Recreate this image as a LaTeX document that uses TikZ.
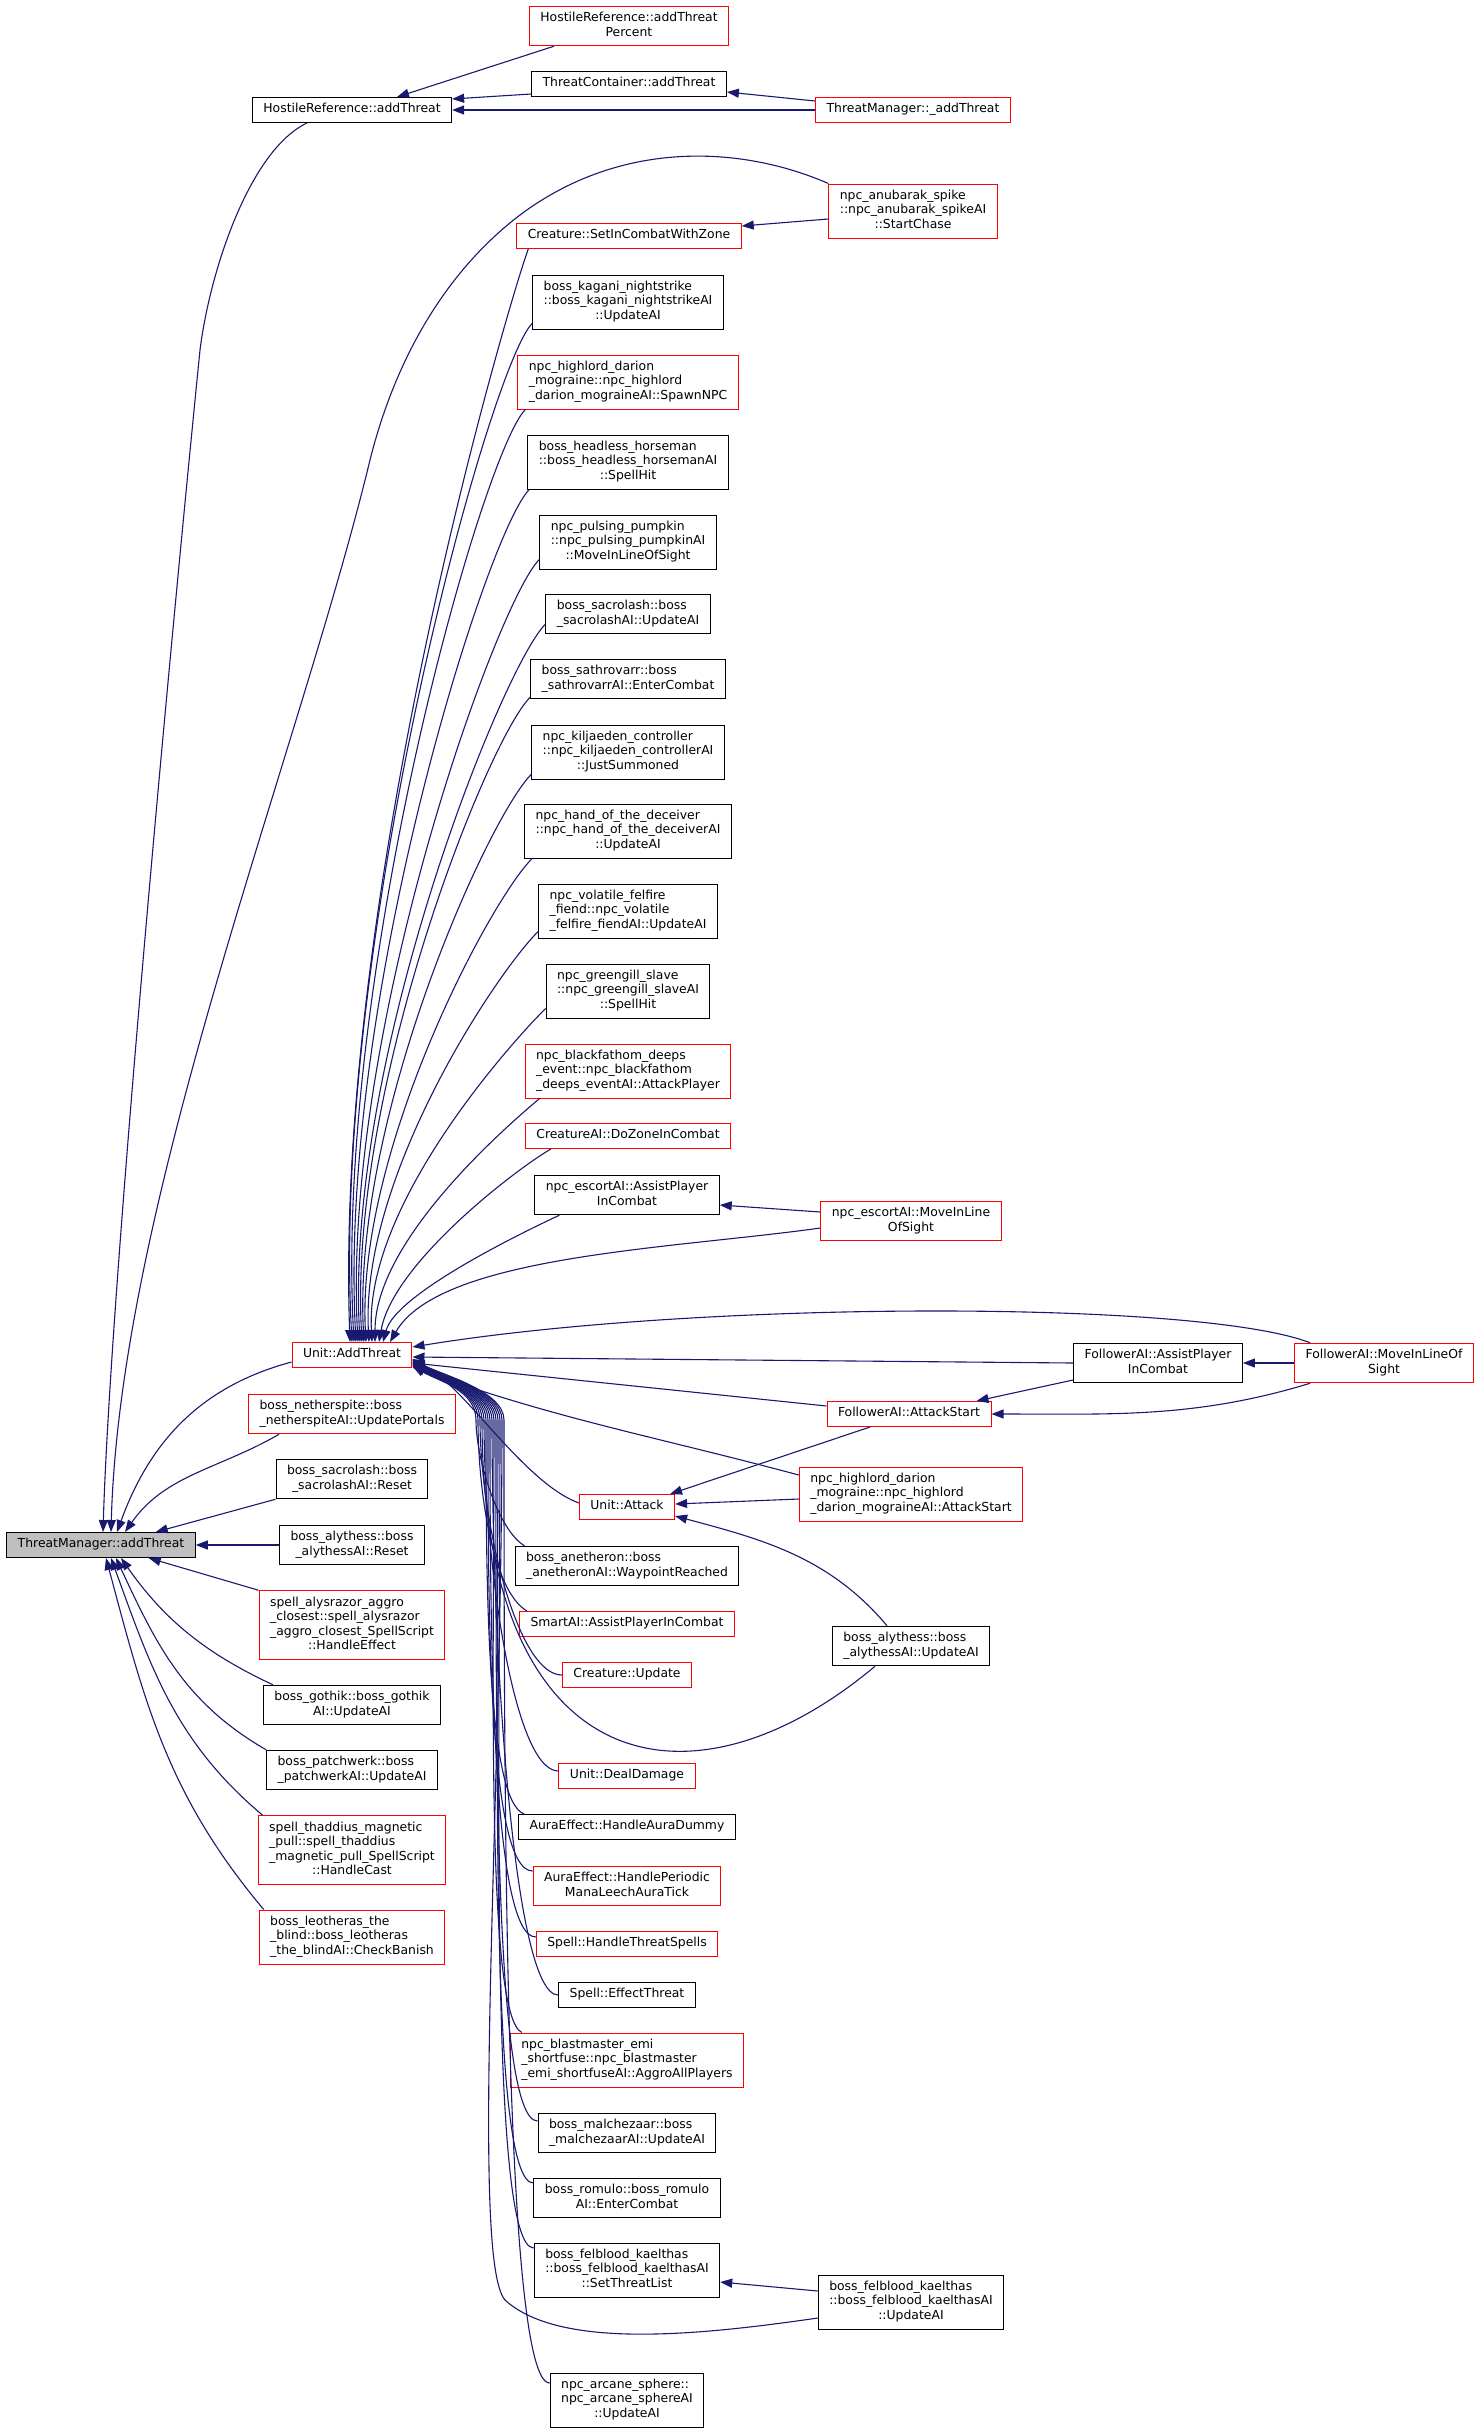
\documentclass[tikz,border=0pt]{standalone}
\usepackage{fontspec}
\setmainfont{DejaVu Sans}
\usetikzlibrary{arrows.meta}
\definecolor{edgeblue}{HTML}{191970}
\definecolor{boxgrey}{HTML}{BFBFBF}
\newcommand{\dgfont}{\fontsize{12.4}{14.5}\selectfont}
\newcommand{\nlab}[1]{\begin{tabular}{@{}l@{}}#1\end{tabular}}
\newcommand{\clast}[1]{\multicolumn{1}{@{}c@{}}{#1}}

\begin{document}
\begin{tikzpicture}[x=1pt,y=1pt,
	main node/.style = {rectangle, draw=black, fill=white, line width=1pt, inner xsep=11pt, inner ysep=5.25pt, font=\dgfont},
	red node/.style = {main node, draw=red},
	call edge/.style = {draw=edgeblue, line width=1.1pt, -{Triangle[length=12pt,width=9pt]}}]
	\path[use as bounding box, fill=white] (0,0) rectangle (1475,-2434);

	\node[main node,fill=boxgrey] (1) at (101,-1545) {\nlab{ThreatManager::addThreat}};
	\node[main node] (2) at (352,-110) {\nlab{HostileReference::addThreat}};
	\node[red node] (3) at (629,-26) {\nlab{HostileReference::addThreat\\\clast{Percent}}};
	\node[main node] (4) at (629,-84) {\nlab{ThreatContainer::addThreat}};
	\node[red node] (5) at (913,-110) {\nlab{ThreatManager::\_addThreat}};
	\node[red node] (6) at (913,-211) {\nlab{npc\_anubarak\_spike\\::npc\_anubarak\_spikeAI\\\clast{::StartChase}}};
	\node[red node] (7) at (629,-236) {\nlab{Creature::SetInCombatWithZone}};
	\node[main node] (8) at (628,-302) {\nlab{boss\_kagani\_nightstrike\\::boss\_kagani\_nightstrikeAI\\\clast{::UpdateAI}}};
	\node[red node] (9) at (628,-382) {\nlab{npc\_highlord\_darion\\\_mograine::npc\_highlord\\\clast{\_darion\_mograineAI::SpawnNPC}}};
	\node[main node] (10) at (628,-462) {\nlab{boss\_headless\_horseman\\::boss\_headless\_horsemanAI\\\clast{::SpellHit}}};
	\node[main node] (11) at (628,-542) {\nlab{npc\_pulsing\_pumpkin\\::npc\_pulsing\_pumpkinAI\\\clast{::MoveInLineOfSight}}};
	\node[main node] (12) at (628,-614) {\nlab{boss\_sacrolash::boss\\\clast{\_sacrolashAI::UpdateAI}}};
	\node[main node] (13) at (628,-679) {\nlab{boss\_sathrovarr::boss\\\clast{\_sathrovarrAI::EnterCombat}}};
	\node[main node] (14) at (628,-752) {\nlab{npc\_kiljaeden\_controller\\::npc\_kiljaeden\_controllerAI\\\clast{::JustSummoned}}};
	\node[main node] (15) at (628,-831) {\nlab{npc\_hand\_of\_the\_deceiver\\::npc\_hand\_of\_the\_deceiverAI\\\clast{::UpdateAI}}};
	\node[main node] (16) at (628,-911) {\nlab{npc\_volatile\_felfire\\\_fiend::npc\_volatile\\\clast{\_felfire\_fiendAI::UpdateAI}}};
	\node[main node] (17) at (628,-991) {\nlab{npc\_greengill\_slave\\::npc\_greengill\_slaveAI\\\clast{::SpellHit}}};
	\node[red node] (18) at (628,-1071) {\nlab{npc\_blackfathom\_deeps\\\_event::npc\_blackfathom\\\clast{\_deeps\_eventAI::AttackPlayer}}};
	\node[red node] (19) at (628,-1136) {\nlab{CreatureAI::DoZoneInCombat}};
	\node[main node] (20) at (627,-1195) {\nlab{npc\_escortAI::AssistPlayer\\\clast{InCombat}}};
	\node[red node] (21) at (911,-1221) {\nlab{npc\_escortAI::MoveInLine\\\clast{OfSight}}};
	\node[red node] (22) at (352,-1355) {\nlab{Unit::AddThreat}};
	\node[main node] (23) at (1158,-1363) {\nlab{FollowerAI::AssistPlayer\\\clast{InCombat}}};
	\node[red node] (24) at (1384,-1363) {\nlab{FollowerAI::MoveInLineOf\\\clast{Sight}}};
	\node[red node] (25) at (909,-1414) {\nlab{FollowerAI::AttackStart}};
	\node[red node] (26) at (352,-1414) {\nlab{boss\_netherspite::boss\\\clast{\_netherspiteAI::UpdatePortals}}};
	\node[red node] (27) at (627,-1507) {\nlab{Unit::Attack}};
	\node[red node] (28) at (911,-1494) {\nlab{npc\_highlord\_darion\\\_mograine::npc\_highlord\\\clast{\_darion\_mograineAI::AttackStart}}};
	\node[main node] (29) at (352,-1479) {\nlab{boss\_sacrolash::boss\\\clast{\_sacrolashAI::Reset}}};
	\node[main node] (30) at (352,-1545) {\nlab{boss\_alythess::boss\\\clast{\_alythessAI::Reset}}};
	\node[main node] (31) at (627,-1566) {\nlab{boss\_anetheron::boss\\\clast{\_anetheronAI::WaypointReached}}};
	\node[red node] (32) at (627,-1624) {\nlab{SmartAI::AssistPlayerInCombat}};
	\node[red node] (33) at (627,-1675) {\nlab{Creature::Update}};
	\node[main node] (34) at (911,-1646) {\nlab{boss\_alythess::boss\\\clast{\_alythessAI::UpdateAI}}};
	\node[red node] (35) at (352,-1625) {\nlab{spell\_alysrazor\_aggro\\\_closest::spell\_alysrazor\\\_aggro\_closest\_SpellScript\\\clast{::HandleEffect}}};
	\node[main node] (36) at (352,-1705) {\nlab{boss\_gothik::boss\_gothik\\\clast{AI::UpdateAI}}};
	\node[red node] (37) at (627,-1776) {\nlab{Unit::DealDamage}};
	\node[main node] (38) at (352,-1770) {\nlab{boss\_patchwerk::boss\\\clast{\_patchwerkAI::UpdateAI}}};
	\node[main node] (39) at (627,-1827) {\nlab{AuraEffect::HandleAuraDummy}};
	\node[red node] (40) at (352,-1850) {\nlab{spell\_thaddius\_magnetic\\\_pull::spell\_thaddius\\\_magnetic\_pull\_SpellScript\\\clast{::HandleCast}}};
	\node[red node] (41) at (627,-1886) {\nlab{AuraEffect::HandlePeriodic\\\clast{ManaLeechAuraTick}}};
	\node[red node] (42) at (627,-1944) {\nlab{Spell::HandleThreatSpells}};
	\node[red node] (43) at (352,-1937) {\nlab{boss\_leotheras\_the\\\_blind::boss\_leotheras\\\clast{\_the\_blindAI::CheckBanish}}};
	\node[main node] (44) at (627,-1995) {\nlab{Spell::EffectThreat}};
	\node[red node] (45) at (627,-2060) {\nlab{npc\_blastmaster\_emi\\\_shortfuse::npc\_blastmaster\\\clast{\_emi\_shortfuseAI::AggroAllPlayers}}};
	\node[main node] (46) at (627,-2133) {\nlab{boss\_malchezaar::boss\\\clast{\_malchezaarAI::UpdateAI}}};
	\node[main node] (47) at (627,-2198) {\nlab{boss\_romulo::boss\_romulo\\\clast{AI::EnterCombat}}};
	\node[main node] (48) at (627,-2270) {\nlab{boss\_felblood\_kaelthas\\::boss\_felblood\_kaelthasAI\\\clast{::SetThreatList}}};
	\node[main node] (49) at (911,-2302) {\nlab{boss\_felblood\_kaelthas\\::boss\_felblood\_kaelthasAI\\\clast{::UpdateAI}}};
	\node[main node] (50) at (627,-2400) {\nlab{npc\_arcane\_sphere::\\npc\_arcane\_sphereAI\\\clast{::UpdateAI}}};

	\draw[call edge] ([xshift=-45pt]2.south) .. controls (250,-150) and (210,-270) .. (200,-350) .. controls (165,-700) and (110,-1300) .. ([xshift=2pt]1.north);
	\draw[call edge] ([xshift=25pt]3.south west) -- ([xshift=45pt]2.north);
	\draw[call edge] ([yshift=-10pt]4.west) -- ([yshift=11pt]2.east);
	\draw[call edge] (5.west) -- (2.east);
	\draw[call edge] ([yshift=9pt]5.west) -- ([yshift=-8pt]4.east);
	\draw[call edge] ([yshift=-8pt]6.west) -- ([yshift=10pt]7.east);
	\draw[call edge] (6.north west) .. controls (740,-145) and (620,-140) .. (520,-215) .. controls (445,-272) and (395,-360) .. (370,-460) .. controls (300,-750) and (120,-1200) .. ([xshift=10pt]1.north);

	\draw[call edge] ([xshift=12pt]7.south west) .. controls +(250:60) and +(92:450) .. ([xshift=-2pt]22.north);
	\draw[call edge] ([yshift=6pt]8.south west) .. controls +(225:60) and +(93:400) .. (22.north);
	\draw[call edge] ([xshift=8pt]9.south west) .. controls +(225:60) and +(93:370) .. ([xshift=2pt]22.north);
	\draw[call edge] ([xshift=2pt]10.south west) .. controls +(225:60) and +(93:340) .. ([xshift=4pt]22.north);
	\draw[call edge] ([yshift=10pt]11.south west) .. controls +(225:60) and +(93:310) .. ([xshift=6pt]22.north);
	\draw[call edge] ([yshift=10pt]12.south west) .. controls +(225:60) and +(93:285) .. ([xshift=8pt]22.north);
	\draw[call edge] ([yshift=2pt]13.south west) .. controls +(225:60) and +(93:255) .. ([xshift=10pt]22.north);
	\draw[call edge] ([yshift=5pt]14.south west) .. controls +(225:60) and +(93:225) .. ([xshift=12pt]22.north);
	\draw[call edge] ([xshift=8pt]15.south west) .. controls +(225:60) and +(93:190) .. ([xshift=14pt]22.north);
	\draw[call edge] ([yshift=7pt]16.south west) .. controls +(225:60) and +(93:165) .. ([xshift=17pt]22.north);
	\draw[call edge] ([yshift=10pt]17.south west) .. controls +(225:55) and +(93:135) .. ([xshift=20pt]22.north);
	\draw[call edge] ([xshift=15pt]18.south west) .. controls +(220:50) and +(90:100) .. ([xshift=23pt]22.north);
	\draw[call edge] ([xshift=26pt]19.south west) .. controls +(210:40) and +(80:80) .. ([xshift=27pt]22.north);
	\draw[call edge] ([xshift=25pt]20.south west) .. controls +(205:40) and +(75:50) .. ([xshift=31pt]22.north);
	\draw[call edge] ([yshift=-7pt]21.west) .. controls +(188:150) and +(60:100) .. ([xshift=38pt]22.north);
	\draw[call edge] ([yshift=9pt]21.west) -- ([yshift=-10pt]20.east);

	\draw[call edge] ([xshift=16pt]24.north west) .. controls (1200,-1300) and (700,-1300) .. ([yshift=8pt]22.east);
	\draw[call edge] (23.west) -- ([yshift=-2pt]22.east);
	\draw[call edge] ([yshift=8pt]25.west) -- ([yshift=-8pt]22.east);
	\draw[call edge] ([yshift=19pt]28.west) .. controls +(165:150) and +(-20:150) .. ([yshift=1pt]22.south east);
	\draw[call edge] ([yshift=4pt]27.west) .. controls +(160:60) and +(-20:50) .. ([yshift=6pt]22.south east);
	\draw[call edge] (24.west) -- (23.east);
	\draw[call edge] ([yshift=-17pt]23.west) -- ([xshift=-15pt]25.north east);
	\draw[call edge] ([xshift=16pt]24.south west) .. controls +(197:120) and +(0:120) .. (25.east);
	\draw[call edge] ([xshift=-39pt]25.south) -- ([xshift=-5pt]27.north east);
	\draw[call edge] ([yshift=-5pt]28.west) -- ([yshift=3pt]27.east);
	\draw[call edge] ([xshift=-24pt]34.north) .. controls +(130:90) and +(-15:90) .. ([yshift=-9pt]27.east);
	\draw[call edge] ([yshift=11pt]49.west) -- ([yshift=-12pt]48.east);

	\draw[call edge] ([xshift=10pt]31.north west) .. controls +(150:30) and +(-90:40) .. (476,-1420) .. controls +(90:30) and +(-30:30) .. ([yshift=2pt]22.south east);
	\draw[call edge] ([xshift=8pt]32.north west) .. controls +(150:40) and +(-90:70) .. (478,-1420) .. controls +(90:30) and +(-30:30) .. ([yshift=3pt]22.south east);
	\draw[call edge] (33.west) .. controls +(180:45) and +(-90:100) .. (480,-1420) .. controls +(90:30) and +(-30:30) .. ([yshift=3pt]22.south east);
	\draw[call edge] ([xshift=-36pt]34.south) .. controls +(220:240) and +(-90:360) .. (482,-1420) .. controls +(90:30) and +(-30:30) .. ([yshift=4pt]22.south east);
	\draw[call edge] ([yshift=5pt]37.west) .. controls +(180:45) and +(-90:140) .. (484,-1420) .. controls +(90:30) and +(-30:30) .. ([yshift=4pt]22.south east);
	\draw[call edge] ([xshift=6pt]39.north west) .. controls +(160:40) and +(-90:160) .. (486,-1420) .. controls +(90:30) and +(-30:30) .. ([yshift=5pt]22.south east);
	\draw[call edge] ([yshift=15pt]41.west) .. controls +(180:45) and +(-90:180) .. (488,-1420) .. controls +(90:30) and +(-30:30) .. ([yshift=5pt]22.south east);
	\draw[call edge] ([yshift=7pt]42.west) .. controls +(180:45) and +(-90:200) .. (490,-1420) .. controls +(90:30) and +(-30:30) .. ([yshift=6pt]22.south east);
	\draw[call edge] (44.west) .. controls +(180:45) and +(-90:230) .. (492,-1420) .. controls +(90:30) and +(-30:30) .. ([yshift=6pt]22.south east);
	\draw[call edge] ([xshift=12pt]45.north west) .. controls +(155:40) and +(-90:250) .. (494,-1420) .. controls +(90:30) and +(-30:30) .. ([yshift=7pt]22.south east);
	\draw[call edge] ([yshift=12pt]46.west) .. controls +(180:45) and +(-90:280) .. (496,-1420) .. controls +(90:30) and +(-30:30) .. ([yshift=7pt]22.south east);
	\draw[call edge] ([yshift=15pt]47.west) .. controls +(180:45) and +(-90:310) .. (498,-1420) .. controls +(90:30) and +(-30:30) .. ([yshift=8pt]22.south east);
	\draw[call edge] ([yshift=22pt]48.west) .. controls +(180:45) and +(-90:340) .. (500,-1420) .. controls +(90:30) and +(-30:30) .. ([yshift=8pt]22.south east);
	\draw[call edge] ([yshift=-16pt]49.west) .. controls (700,-2335) and (560,-2350) .. (505,-2300) .. controls (470,-2260) and (502,-1800) .. (502,-1420) .. controls +(90:30) and +(-30:30) .. ([yshift=9pt]22.south east);
	\draw[call edge] ([yshift=17pt]50.west) .. controls +(180:45) and +(-90:390) .. (504,-1420) .. controls +(90:30) and +(-30:30) .. ([yshift=9pt]22.south east);

	\draw[call edge] ([yshift=-7pt]22.west) .. controls +(195:95) and +(70:95) .. ([xshift=16pt]1.north);
	\draw[call edge] ([xshift=31pt]26.south west) .. controls +(210:70) and +(55:70) .. ([xshift=24pt]1.north);
	\draw[call edge] (29.south west) -- ([xshift=-40pt]1.north east);
	\draw[call edge] (30.west) -- (1.east);
	\draw[call edge] (35.north west) -- ([xshift=-47pt]1.south east);
	\draw[call edge] ([xshift=10pt]36.north west) .. controls +(155:75) and +(-55:75) .. ([xshift=20pt]1.south);
	\draw[call edge] (38.north west) .. controls +(150:95) and +(-65:95) .. ([xshift=15pt]1.south);
	\draw[call edge] ([xshift=5pt]40.north west) .. controls +(140:115) and +(-70:115) .. ([xshift=10pt]1.south);
	\draw[call edge] ([xshift=5pt]43.north west) .. controls +(130:150) and +(-75:150) .. ([xshift=5pt]1.south);
\end{tikzpicture}
\end{document}
